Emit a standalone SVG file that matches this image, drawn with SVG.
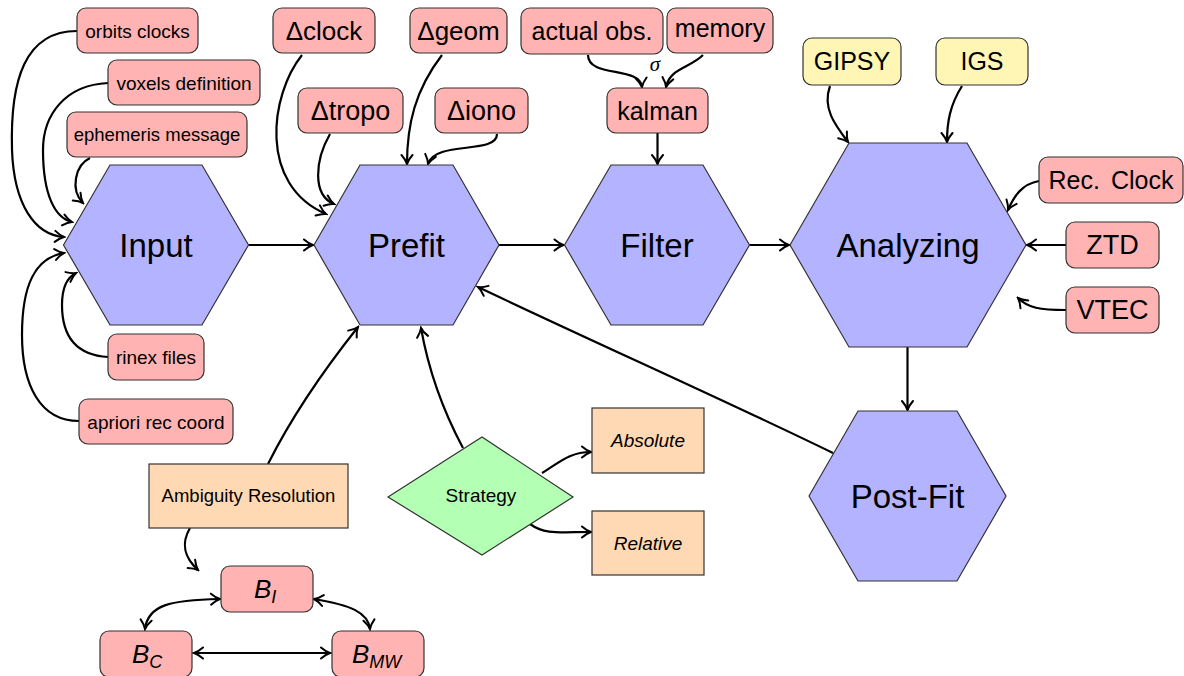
<svg xmlns="http://www.w3.org/2000/svg" width="1184" height="676" viewBox="0 0 1184 676">
<defs>
<style>
text{font-family:"Liberation Sans",Arial,sans-serif;fill:#000;text-anchor:middle}
.hex{fill:#b3b3ff;stroke:#333;stroke-width:1.2}
.red{fill:#ffb3b3;stroke:#333;stroke-width:1.2}
.yel{fill:#fff6b5;stroke:#333;stroke-width:1.2}
.org{fill:#ffd9b3;stroke:#333;stroke-width:1.2}
.grn{fill:#b3ffb3;stroke:#333;stroke-width:1.2}
.ht{font-size:33px}
.mt{font-size:25px}
.st{font-size:19px}
.it{font-style:italic}
#edges path{fill:none;stroke:#000;stroke-width:2.2;marker-end:url(#arr)}
#edges path.both{marker-start:url(#arr)}
</style>
<marker id="arr" markerUnits="userSpaceOnUse" viewBox="-12 -7 14 14" refX="0" refY="0" markerWidth="14" markerHeight="14" orient="auto-start-reverse">
<path d="M-9,-5.5 C-5,-2 -2,-0.6 0,0 C-2,0.6 -5,2 -9,5.5" fill="none" stroke="#000" stroke-width="2" stroke-linecap="round"/>
</marker>
</defs>
<rect width="1184" height="676" fill="#fff"/>

<g id="edges">
<path d="M77,31 C25,31 10,80 12,150 C14,205 35,235 64,237"/>
<path d="M108,83 C65,85 43,115 43,150 C43,195 55,218 72,222"/>
<path d="M90,158 C75,165 70,190 83,203"/>
<path d="M79,421 C40,421 22,385 22,335 C22,285 35,258 64,253"/>
<path d="M108,357 C75,355 62,335 62,305 C62,290 66,278 76,273"/>
<path d="M302,55 C270,95 258,185 326,214"/>
<path d="M330,134 C315,160 312,195 334,204"/>
<path d="M442,55 C415,90 407,125 407,164"/>
<path d="M497,134 C497,155 435,140 428,164"/>
<path d="M588,55 C588,78 640,66 642,87"/>
<path d="M703,55 C690,68 670,68 666,87"/>
<path d="M657.5,133 L657.5,164"/>
<path d="M248.5,245 L313,245"/>
<path d="M499,245 L563.5,245"/>
<path d="M749.5,245 L789,245"/>
<path d="M830,86 C822,108 835,125 848,142"/>
<path d="M962,86 C950,105 947,122 947,142"/>
<path d="M1039,181 C1022,184 1014,196 1008,210"/>
<path d="M1066,245 L1027,245"/>
<path d="M1066,310 C1040,310 1028,308 1018,298"/>
<path d="M907.5,347 L907.5,410"/>
<path d="M833,453 C720,398 600,345 478,287"/>
<path d="M268,464 Q300,400 358,327"/>
<path d="M463,448 Q432,390 421,328"/>
<path d="M542,473 C560,462 570,452 591,452"/>
<path d="M530,524 C545,535 560,532 591,532"/>
<path d="M190,528 C180,545 185,558 198,570"/>
<path class="both" d="M220,599 C170,600 148,605 145,629"/>
<path class="both" d="M314,599 C350,605 368,612 370,629"/>
<path class="both" d="M194,653 L330,653"/>
</g>

<g id="input"><polygon class="hex" points="63.5,245 110,165 202,165 248.5,245 202,325 110,325"/><text class="ht" x="156" y="245" dy=".35em">Input</text></g>
<g id="prefit"><polygon class="hex" points="314,245 360,165 453,165 499,245 453,325 360,325"/><text class="ht" x="406.5" y="245" dy=".35em">Prefit</text></g>
<g id="filter"><polygon class="hex" points="564.5,245 611,165 703,165 749.5,245 703,325 611,325"/><text class="ht" x="657" y="245" dy=".35em">Filter</text></g>
<g id="analyzing"><polygon class="hex" points="790,245 849,143 967,143 1026,245 967,347 849,347"/><text class="ht" x="908" y="245" dy=".35em">Analyzing</text></g>
<g id="postfit"><polygon class="hex" points="809,496 858,411 957,411 1006,496 957,581 858,581"/><text class="ht" x="907.5" y="496" dy=".35em">Post-Fit</text></g>

<g id="orbits"><rect class="red" x="77" y="8" width="121" height="45" rx="9"/><text class="st" x="137.5" y="31" dy=".35em">orbits clocks</text></g>
<g id="voxels"><rect class="red" x="108" y="60" width="152" height="45" rx="9"/><text class="st" x="184" y="83" dy=".35em">voxels definition</text></g>
<g id="ephemeris"><rect class="red" x="67" y="112" width="180" height="45" rx="9"/><text class="st" x="157" y="135" dy=".35em" style="font-size:18.5px">ephemeris message</text></g>
<g id="rinex"><rect class="red" x="108" y="334" width="96" height="46" rx="9"/><text class="st" x="156" y="357" dy=".35em">rinex files</text></g>
<g id="apriori"><rect class="red" x="79" y="399" width="154" height="45" rx="9"/><text class="st" x="156" y="422" dy=".35em">apriori rec coord</text></g>

<g id="dclock"><rect class="red" x="273" y="8" width="102" height="45" rx="9"/><text class="mt" x="324" y="31" dy=".35em" style="font-size:26px">Δclock</text></g>
<g id="dtropo"><rect class="red" x="298" y="88" width="105" height="45" rx="9"/><text class="mt" x="350.5" y="111" dy=".35em" style="font-size:27px">Δtropo</text></g>
<g id="dgeom"><rect class="red" x="410" y="8" width="97" height="45" rx="9"/><text class="mt" x="458.5" y="31" dy=".35em" style="font-size:26px">Δgeom</text></g>
<g id="diono"><rect class="red" x="435" y="88" width="93" height="45" rx="9"/><text class="mt" x="481.5" y="111" dy=".35em" style="font-size:27px">Δiono</text></g>
<g id="actualobs"><rect class="red" x="521" y="8" width="142" height="46" rx="9"/><text class="mt" x="592" y="31" dy=".35em">actual obs.</text></g>
<g id="memory"><rect class="red" x="667" y="8" width="106" height="45" rx="9"/><text class="mt" x="720" y="28" dy=".35em">memory</text></g>
<text class="it" x="655" y="71" style="font-family:'Liberation Serif',serif;font-size:21px">σ</text>
<g id="kalman"><rect class="red" x="607" y="88" width="101" height="45" rx="9"/><text class="mt" x="657.5" y="111" dy=".35em">kalman</text></g>

<g id="gipsy"><rect class="yel" x="803" y="38" width="98" height="47" rx="9"/><text class="mt" x="852" y="61.5" dy=".35em">GIPSY</text></g>
<g id="igs"><rect class="yel" x="936" y="38" width="92" height="47" rx="9"/><text class="mt" x="982" y="61.5" dy=".35em">IGS</text></g>
<g id="recclock"><rect class="red" x="1039" y="157" width="144" height="46" rx="9"/><text class="mt" x="1111" y="180" dy=".35em" style="word-spacing:4px">Rec. Clock</text></g>
<g id="ztd"><rect class="red" x="1066" y="222" width="93" height="46" rx="9"/><text class="mt" x="1112.5" y="245" dy=".35em" style="font-size:27px">ZTD</text></g>
<g id="vtec"><rect class="red" x="1066" y="287" width="93" height="46" rx="9"/><text class="mt" x="1112.5" y="310" dy=".35em" style="font-size:27px">VTEC</text></g>

<g id="ambiguity"><rect class="org" x="149" y="464" width="199" height="64"/><text class="st" x="248.5" y="496" dy=".35em" style="font-size:18.5px">Ambiguity Resolution</text></g>
<g id="strategy"><polygon class="grn" points="388,497 482,437 573,497 482,555"/><text class="st" x="481" y="495" dy=".35em">Strategy</text></g>
<g id="absolute"><rect class="org" x="592" y="408" width="112" height="65"/><text class="st it" x="648" y="440.5" dy=".35em">Absolute</text></g>
<g id="relative"><rect class="org" x="592" y="511" width="112" height="64"/><text class="st it" x="648" y="543" dy=".35em">Relative</text></g>

<g id="bi"><rect class="red" x="221" y="566" width="92" height="46" rx="9"/><text x="254" y="598" style="text-anchor:start;font-style:italic;font-size:26px">B<tspan dy="5" style="font-size:18px">I</tspan></text></g>
<g id="bc"><rect class="red" x="100" y="631" width="92" height="46" rx="9"/><text x="132" y="663" style="text-anchor:start;font-style:italic;font-size:26px">B<tspan dy="5" style="font-size:18px">C</tspan></text></g>
<g id="bmw"><rect class="red" x="332" y="631" width="92" height="46" rx="9"/><text x="352" y="663" style="text-anchor:start;font-style:italic;font-size:26px">B<tspan dy="5" style="font-size:18px">MW</tspan></text></g>
</svg>
